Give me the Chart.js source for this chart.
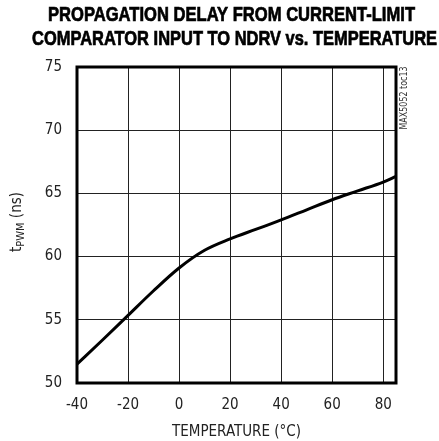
<!DOCTYPE html>
<html>
<head>
<meta charset="utf-8">
<script src="https://cdn.jsdelivr.net/npm/chart.js@4"></script>
<style>
  html, body { margin: 0; padding: 0; background: #fff; }
  #c { display: block; }
</style>
</head>
<body>
<canvas id="c" width="439" height="441"></canvas>
<script>
// chart data
const titleLines = ["PROPAGATION DELAY FROM CURRENT-LIMIT", "COMPARATOR INPUT TO NDRV vs. TEMPERATURE"];
const temps = [-40, -30, -20, -10, 0, 10, 20, 30, 40, 50, 60, 70, 80, 85];
const delayNs = [51.5, 53.4, 55.35, 57.3, 59.1, 60.5, 61.4, 62.15, 62.9, 63.7, 64.5, 65.2, 65.9, 66.35];
const xTicks = [-40, -20, 0, 20, 40, 60, 80];
const yTicks = [50, 55, 60, 65, 70, 75];

const NARROW = "'DejaVu Sans Condensed', 'Liberation Sans Narrow', sans-serif";

// squeeze a string into a given width (no condensed bold face installed)
function fitText(ctx, text, cx, cy, width, heavy) {
  const w = ctx.measureText(text).width;
  ctx.save();
  ctx.translate(cx, cy);
  ctx.scale(width / w, 1);
  ctx.fillText(text, 0, 0);
  if (heavy) {
    ctx.lineWidth = heavy;
    ctx.strokeStyle = ctx.fillStyle;
    ctx.strokeText(text, 0, 0);
  }
  ctx.restore();
}

// title, y label with subscript, part number, thick frame
const extras = {
  id: "extras",
  afterDraw(chart) {
    const ctx = chart.ctx;
    const a = chart.chartArea;
    ctx.save();
    ctx.strokeStyle = "#000";
    ctx.lineWidth = 3;
    ctx.strokeRect(a.left, a.top, a.right - a.left, a.bottom - a.top);

    ctx.fillStyle = "#000";
    ctx.textAlign = "center";
    ctx.textBaseline = "middle";
    ctx.font = "bold 20px 'Liberation Sans', Arial, sans-serif";
    fitText(ctx, titleLines[0], 231.5, 15, 367, 0.7);
    fitText(ctx, titleLines[1], 234.5, 39, 405, 0.7);

    // y axis label: t PWM (ns)
    ctx.translate(16, 222);
    ctx.rotate(-Math.PI / 2);
    ctx.fillStyle = "#222";
    ctx.textBaseline = "alphabetic";
    ctx.textAlign = "left";
    const big = "15px " + NARROW, small = "11px " + NARROW;
    ctx.font = big; const w1 = ctx.measureText("t").width;
    ctx.font = small; const w2 = ctx.measureText("PWM").width;
    ctx.font = big; const w3 = ctx.measureText(" (ns)").width;
    let x = -(w1 + w2 + w3) / 2;
    ctx.font = big; ctx.fillText("t", x, 5); x += w1;
    ctx.font = small; ctx.fillText("PWM", x, 8); x += w2;
    ctx.font = big; ctx.fillText(" (ns)", x, 5);
    ctx.restore();

    // part number note
    ctx.save();
    ctx.translate(404, 98);
    ctx.rotate(-Math.PI / 2);
    ctx.fillStyle = "#333";
    ctx.font = "10px " + NARROW;
    ctx.textAlign = "center";
    ctx.textBaseline = "middle";
    fitText(ctx, "MAX5052 toc13", 0, 0, 63);
    ctx.restore();
  }
};

new Chart(document.getElementById("c"), {
  type: "line",
  data: {
    datasets: [{
      label: "tPWM",
      data: temps.map((t, i) => ({ x: t, y: delayNs[i] })),
      borderColor: "#000",
      borderWidth: 3,
      pointRadius: 0,
      cubicInterpolationMode: "monotone",
      fill: false
    }]
  },
  options: {
    responsive: false,
    animation: false,
    layout: { padding: { top: 67, right: 43, left: 0, bottom: 0 } },
    plugins: {
      legend: { display: false },
      tooltip: { enabled: false },
      title: { display: false }
    },
    scales: {
      x: {
        type: "linear",
        min: -40,
        max: 85,
        afterBuildTicks: s => { s.ticks = xTicks.map(v => ({ value: v })); },
        afterFit: s => { s.height = 58; },
        grid: { color: "#222", lineWidth: 1, drawTicks: false },
        border: { display: false },
        ticks: { color: "#222", padding: 13, font: { family: NARROW, size: 15 } },
        title: {
          display: true,
          text: "TEMPERATURE (°C)",
          color: "#222",
          padding: { top: 5, bottom: 0 },
          font: { family: NARROW, size: 15 }
        }
      },
      y: {
        min: 50,
        max: 75,
        afterBuildTicks: s => { s.ticks = yTicks.map(v => ({ value: v })); },
        afterFit: s => { s.width = 77; },
        grid: { color: "#222", lineWidth: 1, drawTicks: false },
        border: { display: false },
        ticks: { color: "#222", padding: 15, font: { family: NARROW, size: 15 } }
      }
    }
  },
  plugins: [extras]
});
</script>
</body>
</html>
